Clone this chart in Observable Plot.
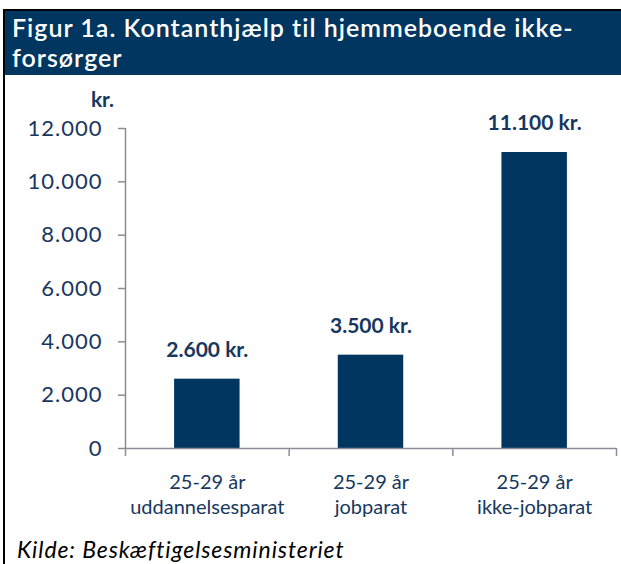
<!DOCTYPE html>
<html>
<head>
<meta charset="utf-8">
<script src="https://cdn.jsdelivr.net/npm/d3@7"></script>
<script src="https://cdn.jsdelivr.net/npm/@observablehq/plot@0.6"></script>
<style>
  html, body { margin: 0; padding: 0; background: #fff; }
  body { width: 621px; height: 564px; overflow: hidden; position: relative; font-family: Lato, "Noto Sans", sans-serif; }
  #frame { position: absolute; left: 3px; top: 9px; width: 616px; height: 560px; border-left: 2px solid #000; border-top: 2px solid #000; }
  #header { background: #003660; color: #fff; height: 64px; box-sizing: border-box; padding: 1px 0 0 7px; font: 600 25px/30px Lato, sans-serif; letter-spacing: 1px; }
  #chart { position: absolute; left: 0; top: 64px; }
  #caption { position: absolute; left: 12px; top: 526px; font: italic 23px/24px Lato, sans-serif; letter-spacing: 0.9px; color: #000; white-space: nowrap; }
  g[aria-label="y-axis tick label"] text { letter-spacing: 1px; }
  g[aria-label="category labels"] text { letter-spacing: 0.5px; }
  g[aria-label="value labels"] text { letter-spacing: 0.3px; }
  g[aria-label="unit label"] text { letter-spacing: 0.3px; }
</style>
</head>
<body>
<div id="frame">
  <div id="header">Figur 1a. Kontanthjælp til hjemmeboende ikke-<br>forsørger</div>
  <div id="chart"></div>
  <div id="caption">Kilde: Beskæftigelsesministeriet</div>
</div>
<script>
const categories = ["25-29 år\nuddannelsesparat", "25-29 år\njobparat", "25-29 år\nikke-jobparat"];
const values = [2600, 3500, 11100];
const yTicks = [0, 2000, 4000, 6000, 8000, 10000, 12000];
const unitLabel = "kr.";

const loc = d3.formatLocale({decimal: ",", thousands: ".", grouping: [3], currency: ["", " kr."]});
const fmt = loc.format(",d");

const data = categories.map((c, i) => ({i, label: c, value: values[i]}));
const boundaries = d3.range(categories.length + 1).map(k => k - 0.5);

const navy = "#17375e";
const grey = "#8c8c96";

const plot = Plot.plot({
  width: 616,
  height: 443,
  marginTop: 53,
  marginBottom: 70,
  marginLeft: 120,
  marginRight: 5,
  style: {fontFamily: "Lato, sans-serif", color: navy, background: "transparent"},
  x: {type: "linear", domain: [-0.5, categories.length - 0.5], axis: null},
  y: {domain: [0, 12000], axis: null},
  marks: [
    Plot.rectY(data, {x1: d => d.i - 0.2, x2: d => d.i + 0.2, y: "value", fill: "#003660"}),
    Plot.ruleX([-0.5], {y1: 0, y2: 12000, stroke: grey, strokeWidth: 1.5}),
    Plot.ruleY([0], {x1: -0.5, x2: categories.length - 0.5, stroke: grey, strokeWidth: 1.5}),
    Plot.axisY({ticks: yTicks, tickSize: 7, tickPadding: 16, tickFormat: fmt, fontSize: 22, stroke: grey, fill: navy, strokeWidth: 1.5, label: null}),
    Plot.axisX({ticks: boundaries, tickSize: 8, tickFormat: () => "", stroke: grey, strokeWidth: 1.5, label: null}),
    Plot.text(data, {x: "i", y: 0, text: "label", dy: 23, lineAnchor: "top", lineHeight: 1.25, fontSize: 20, fill: navy, ariaLabel: "category labels"}),
    Plot.text(data, {x: "i", y: "value", text: d => fmt(d.value) + " kr.", dy: -29, fontSize: 21, fontWeight: "bold", fill: navy, ariaLabel: "value labels"}),
    Plot.text([unitLabel], {x: -0.5, y: 12000, text: d => d, dx: -23, dy: -28, fontSize: 21, fontWeight: "bold", fill: navy, ariaLabel: "unit label"})
  ]
});
document.getElementById("chart").appendChild(plot);
</script>
</body>
</html>
